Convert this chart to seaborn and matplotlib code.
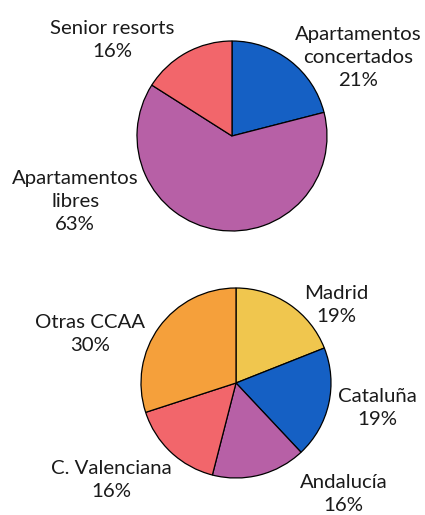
import matplotlib
matplotlib.use("Agg")
import matplotlib.pyplot as plt
import seaborn as sns
import numpy as np

sns.set_theme(style="white")
plt.rcParams['font.family'] = ['Lato', 'DejaVu Sans']

# Datos: tipo de activo
tipos = ["Apartamentos\nconcertados", "Apartamentos\nlibres", "Senior resorts"]
tipos_pct = [21, 63, 16]
tipos_colores = ["#1560C4", "#B760A6", "#F2666B"]
tipos_pos = [(1.33, 0.83), (-1.65, -0.69), (-1.26, 1.01)]

# Datos: comunidades autónomas
ccaa = ["Madrid", "Cataluña", "Andalucía", "C. Valenciana", "Otras CCAA"]
ccaa_pct = [19, 19, 16, 16, 30]
ccaa_colores = ["#F0C64E", "#1560C4", "#B760A6", "#F2666B", "#F5A03B"]
ccaa_pos = [(1.06, 0.82), (1.49, -0.26), (1.13, -1.17), (-1.31, -1.02), (-1.54, 0.52)]

W, H = 425, 515
R = 95.0  # radio en pixeles


def dibujar_pie(fig, top_px, bot_px, cx, cy, nombres, valores, colores, posiciones):
    ax = fig.add_axes([0, 1 - bot_px / H, 1, (bot_px - top_px) / H])
    ax.pie(valores, colors=colores, startangle=90, counterclock=False,
           wedgeprops=dict(edgecolor="black", linewidth=0.9))
    ax.set_aspect('auto')
    ax.set_xlim((0 - cx) / R, (W - cx) / R)
    ax.set_ylim((cy - bot_px) / R, (cy - top_px) / R)
    for nombre, v, (x, y) in zip(nombres, valores, posiciones):
        ax.text(x, y, f"{nombre}\n{v}%", ha="center", va="center",
                fontsize=14.7, color="#1a1a1a", linespacing=1.42)
    ax.axis("off")
    return ax


fig = plt.figure(figsize=(W / 100, H / 100), dpi=100)
dibujar_pie(fig, 0, 258, 232, 136, tipos, tipos_pct, tipos_colores, tipos_pos)
dibujar_pie(fig, 258, 515, 236, 383, ccaa, ccaa_pct, ccaa_colores, ccaa_pos)
fig.savefig("out.png", dpi=100, facecolor="white")
